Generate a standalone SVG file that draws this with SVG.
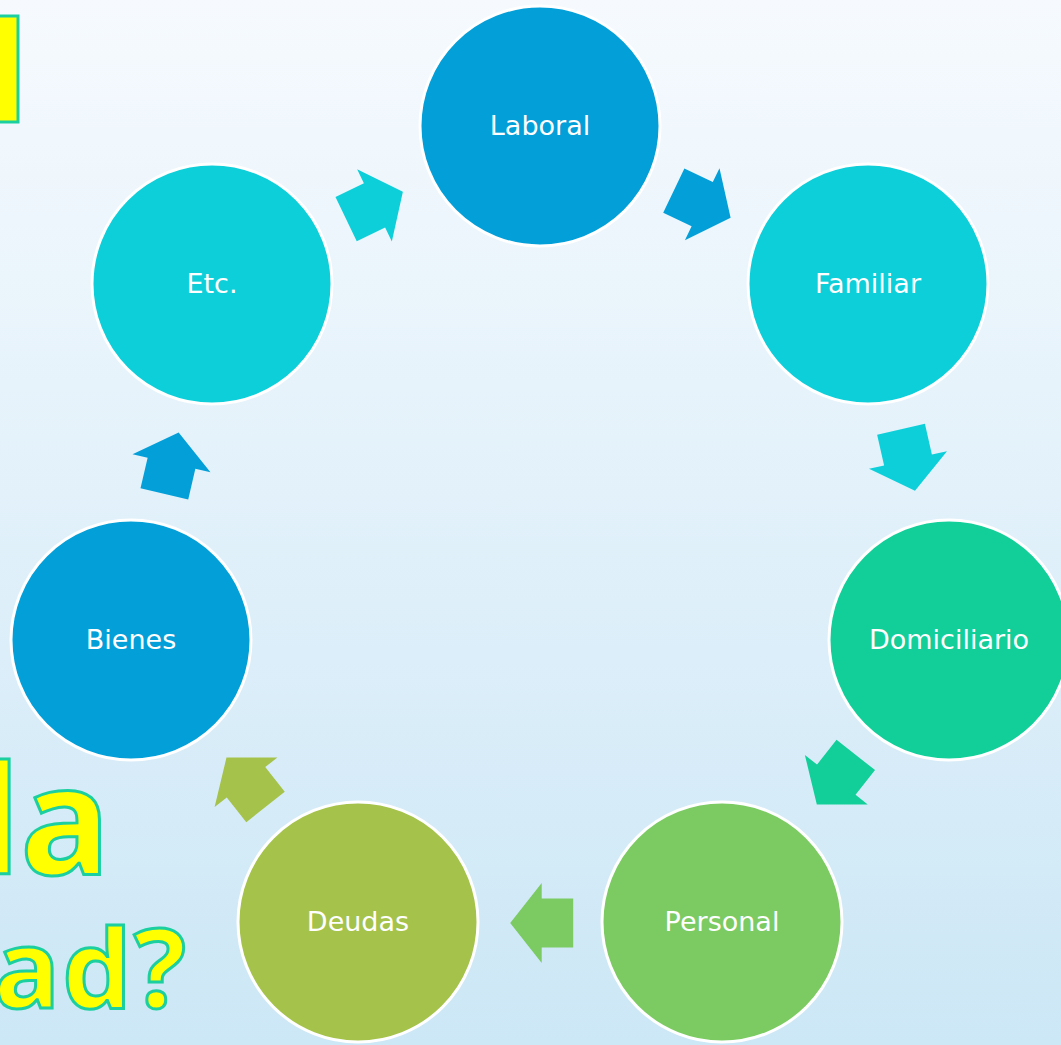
<svg xmlns="http://www.w3.org/2000/svg" width="1061" height="1045" viewBox="0 0 1061 1045">
<defs>
<linearGradient id="bg" x1="0" y1="0" x2="0" y2="1">
<stop offset="0" stop-color="#F6FAFE"/>
<stop offset="1" stop-color="#CCE7F6"/>
</linearGradient>
<path id="arr" d="M-31.5,-24.5 L0,-24.5 L0,-40 L31.5,0 L0,40 L0,24.5 L-31.5,24.5 Z"/>
</defs>
<style>
.node{stroke:#FFFFFF;stroke-width:3}
.lbl{font-family:"DejaVu Sans","Liberation Sans",sans-serif;font-size:27px;fill:#FFFFFF;text-anchor:middle}
.big{font-family:"Noto Sans","DejaVu Sans",sans-serif;font-weight:700;fill:#FFFF00;stroke:#1CCFA0;stroke-width:3;text-anchor:end}
.blue{fill:#039FD9}.cyan{fill:#0DCFDA}.teal{fill:#12CF9A}.green{fill:#7BCB62}.olive{fill:#A5C24A}
</style>
<rect x="0" y="0" width="1061" height="1045" fill="url(#bg)"/>
<g id="title">
<rect x="-10" y="16" width="28" height="106" fill="#FFFF00" stroke="#1CCFA0" stroke-width="3"/>
<text class="big" x="110" y="874" font-size="150">la</text>
<text class="big" x="188" y="1008" font-size="110" letter-spacing="2">ad?</text>
</g>
<g id="connectors">
<use href="#arr" class="blue" transform="translate(702.2,204.2) rotate(25.6)"/>
<use href="#arr" class="cyan" transform="translate(908,460) rotate(77.2)"/>
<use href="#arr" class="teal" transform="translate(836.3,779.7) rotate(128.2)"/>
<use href="#arr" class="green" transform="translate(541.7,923) rotate(180)"/>
<use href="#arr" class="olive" transform="translate(246,782.3) rotate(231.7)"/>
<use href="#arr" class="blue" transform="translate(171.5,463.2) rotate(-76.9)"/>
<use href="#arr" class="cyan" transform="translate(374.5,205.4) rotate(-25.7)"/>
</g>
<g id="laboral"><circle class="node blue" cx="540" cy="126" r="120"/><text class="lbl" x="540" y="135">Laboral</text></g>
<g id="familiar"><circle class="node cyan" cx="868" cy="284" r="120"/><text class="lbl" x="868" y="293">Familiar</text></g>
<g id="domiciliario"><circle class="node teal" cx="949" cy="640" r="120"/><text class="lbl" x="949" y="649">Domiciliario</text></g>
<g id="personal"><circle class="node green" cx="722" cy="922" r="120"/><text class="lbl" x="722" y="931">Personal</text></g>
<g id="deudas"><circle class="node olive" cx="358" cy="922" r="120"/><text class="lbl" x="358" y="931">Deudas</text></g>
<g id="bienes"><circle class="node blue" cx="131" cy="640" r="120"/><text class="lbl" x="131" y="649">Bienes</text></g>
<g id="etc"><circle class="node cyan" cx="212" cy="284" r="120"/><text class="lbl" x="212" y="293">Etc.</text></g>
</svg>
